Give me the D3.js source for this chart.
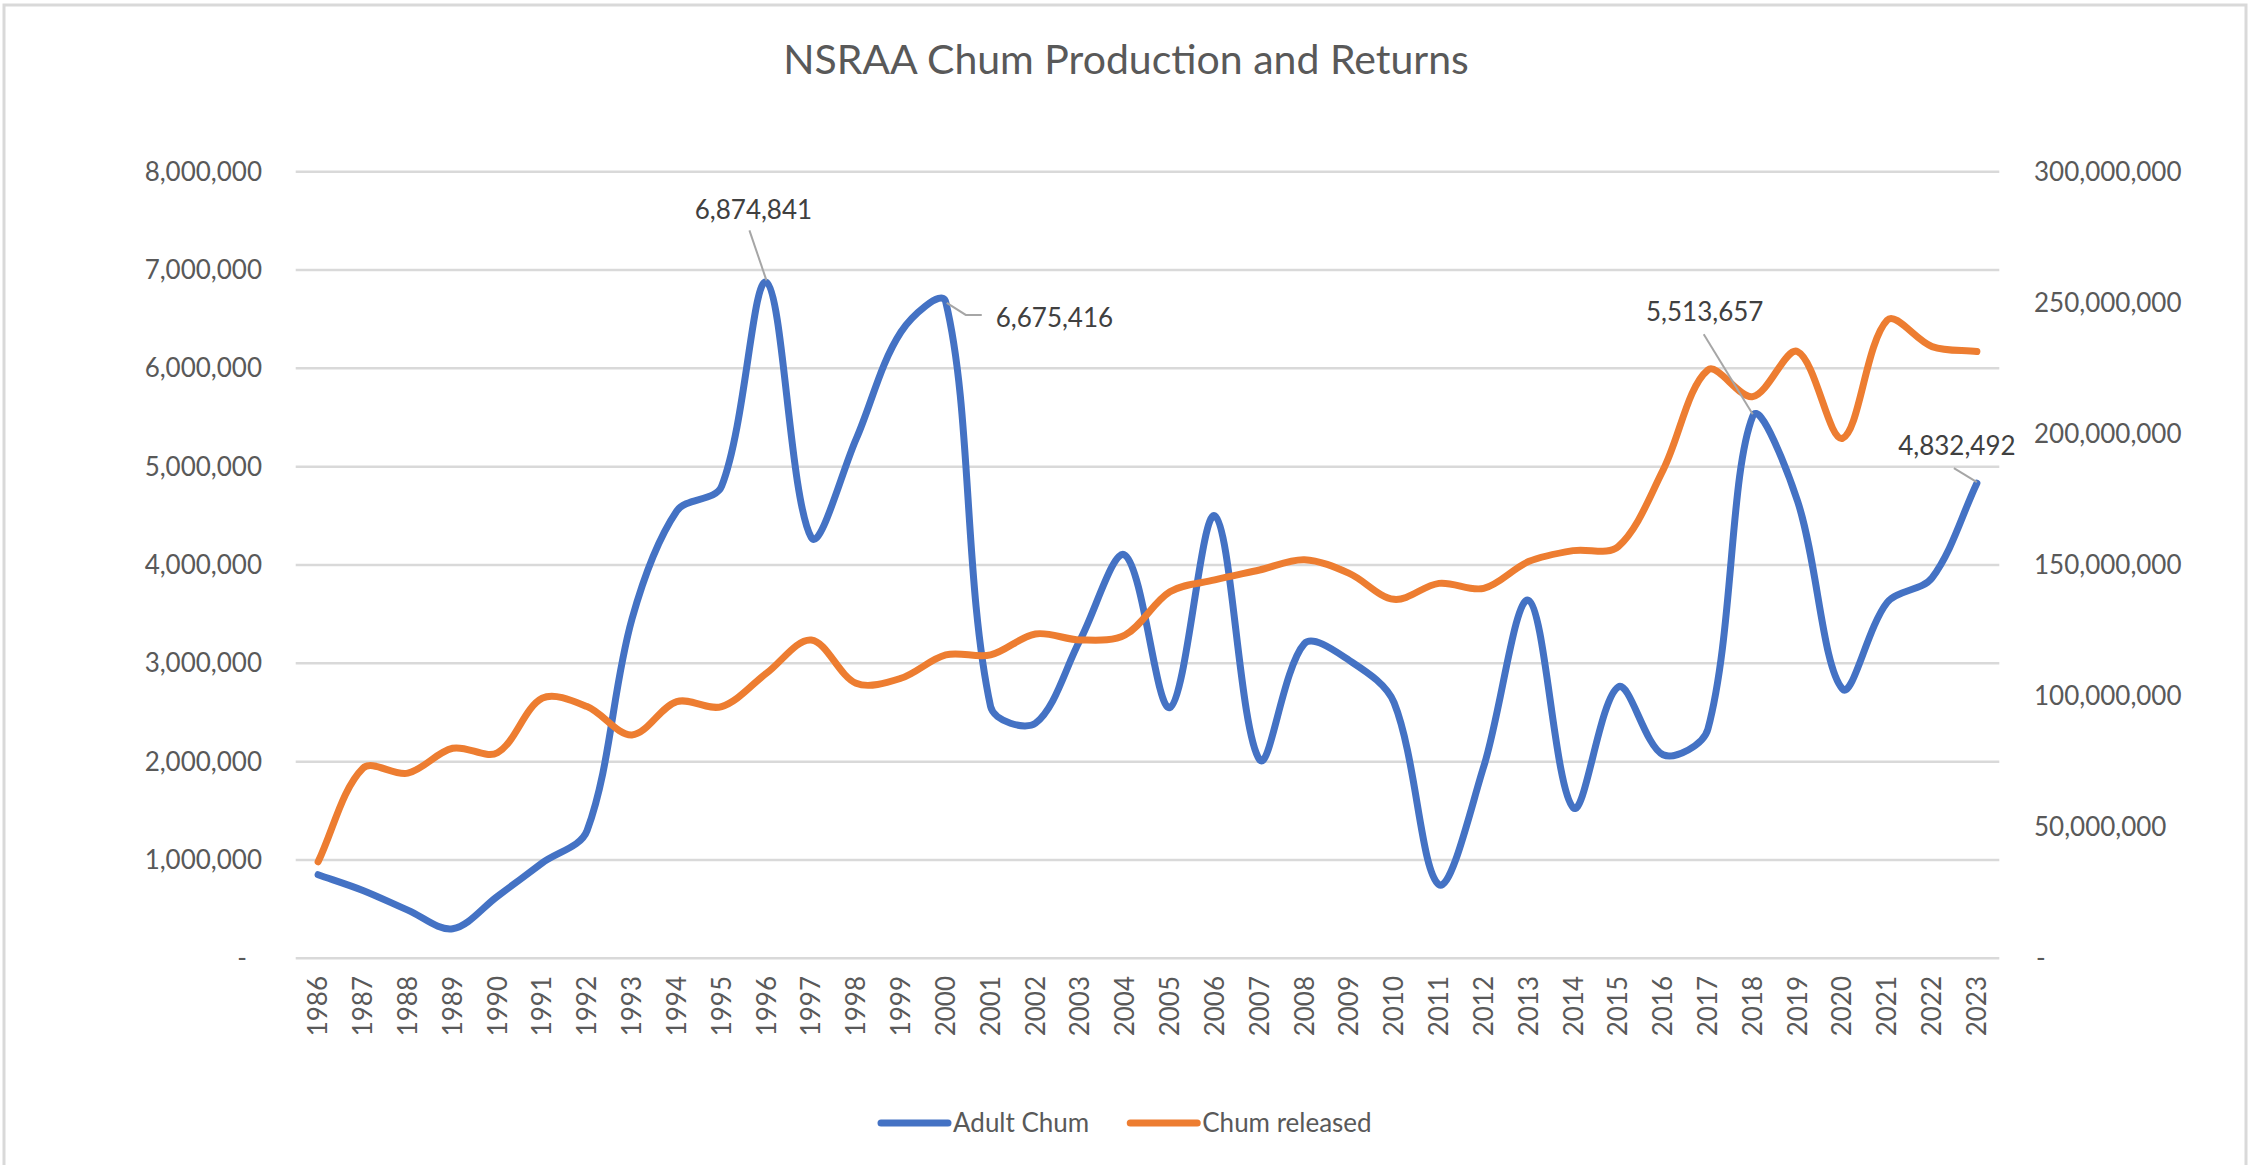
<!DOCTYPE html>
<html>
<head>
<meta charset="utf-8">
<script src="https://cdn.jsdelivr.net/npm/d3@7"></script>
<style>
  body { margin: 0; background: #fff; }
  text { font-family: Lato, sans-serif; fill: #595959; }
</style>
</head>
<body>
<div id="container"></div>
<script>
var years = [1986, 1987, 1988, 1989, 1990, 1991, 1992, 1993, 1994, 1995,
  1996, 1997, 1998, 1999, 2000, 2001, 2002, 2003, 2004, 2005,
  2006, 2007, 2008, 2009, 2010, 2011, 2012, 2013, 2014, 2015,
  2016, 2017, 2018, 2019, 2020, 2021, 2022, 2023]

// returns, left axis
var adultChum = [850000, 690000, 490000, 300000, 630000, 970000, 1300000, 3450000, 4550000, 4800000,
  6874841, 4280000, 5280000, 6370000, 6675416, 2560000, 2390000, 3240000, 4100000, 2550000,
  4500000, 2020000, 3200000, 3030000, 2600000, 750000, 1950000, 3640000, 1530000, 2760000,
  2070000, 2330000, 5513657, 4650000, 2740000, 3620000, 3870000, 4832492]

// releases, right axis
var chumReleased = [36800000, 72500000, 70600000, 80100000, 78400000, 99200000, 96000000, 85200000, 97900000, 96000000,
  108700000, 121400000, 104900000, 106800000, 115700000, 115700000, 123700000, 121400000, 123300000, 139800000,
  144300000, 148100000, 152000000, 146800000, 136900000, 143000000, 141100000, 151300000, 155500000, 157000000,
  186200000, 224400000, 214200000, 231400000, 198300000, 243400000, 233300000, 231400000]

var leftTicks = [0, 1000000, 2000000, 3000000, 4000000, 5000000, 6000000, 7000000, 8000000]
var rightTicks = [0, 50000000, 100000000, 150000000, 200000000, 250000000, 300000000]
var labelledYears = [1996, 2000, 2018, 2023]
var seriesNames = ['Adult Chum', 'Chum released']

var W = 2252, H = 1165
var plot = { left: 295.7, right: 1999.3, top: 171.7, bottom: 958.3 }
var blue = '#4472C4', orange = '#ED7D31'
var fmt = d3.format(',')

var svg = d3.select('#container').append('svg')
  .attr('width', W)
  .attr('height', H)

// chart border
svg.append('rect')
  .attr('x', 4).attr('y', 5)
  .attr('width', W - 10).attr('height', H + 20)
  .attr('fill', 'none')
  .attr('stroke', '#d9d9d9')
  .attr('stroke-width', 3)

svg.append('text')
  .attr('x', 1126).attr('y', 74)
  .attr('text-anchor', 'middle')
  .style('font-size', '41px')
  .text('NSRAA Chum Production and Returns')

var x = d3.scaleBand().domain(years).range([plot.left, plot.right])
var cx = function (yr) { return x(yr) + x.bandwidth() / 2 }
var yL = d3.scaleLinear().domain([0, 8000000]).range([plot.bottom, plot.top])
var yR = d3.scaleLinear().domain([0, 300000000]).range([plot.bottom, plot.top])

// gridlines + left labels
svg.append('g').selectAll('line')
  .data(leftTicks).enter().append('line')
  .attr('x1', plot.left).attr('x2', plot.right)
  .attr('y1', d => yL(d)).attr('y2', d => yL(d))
  .attr('stroke', '#d9d9d9')
  .attr('stroke-width', 2.5)

svg.append('g').selectAll('text')
  .data(leftTicks).enter().append('text')
  .attr('x', d => d === 0 ? 247 : 262)
  .attr('y', d => yL(d))
  .attr('dy', '0.35em')
  .attr('text-anchor', 'end')
  .style('font-size', '26px')
  .text(d => d === 0 ? '-' : fmt(d))

svg.append('g').selectAll('text')
  .data(rightTicks).enter().append('text')
  .attr('x', d => d === 0 ? 2036 : 2034)
  .attr('y', d => yR(d))
  .attr('dy', '0.35em')
  .attr('text-anchor', 'start')
  .style('font-size', '26px')
  .text(d => d === 0 ? '-' : fmt(d))

// year labels, rotated
svg.append('g').selectAll('text')
  .data(years).enter().append('text')
  .attr('transform', d => 'translate(' + cx(d) + ',976) rotate(-90)')
  .attr('dy', '0.35em')
  .attr('text-anchor', 'end')
  .style('font-size', '26px')
  .text(d => d)

// excel style smoothing: catmull-rom tangents weighted by segment length
function smoothPath(pts) {
  var p = d3.path()
  var dist = (a, b) => Math.hypot(b[0] - a[0], b[1] - a[1])
  p.moveTo(pts[0][0], pts[0][1])
  for (var i = 0; i < pts.length - 1; i++) {
    var p0 = pts[i - 1] || pts[i], p1 = pts[i], p2 = pts[i + 1], p3 = pts[i + 2] || pts[i + 1]
    var d01 = dist(p0, p1), d12 = dist(p1, p2), d23 = dist(p2, p3)
    var f1 = d12 / (3 * (d01 + d12))
    var f2 = d12 / (3 * (d12 + d23))
    p.bezierCurveTo(
      p1[0] + (p2[0] - p0[0]) * f1, p1[1] + (p2[1] - p0[1]) * f1,
      p2[0] - (p3[0] - p1[0]) * f2, p2[1] - (p3[1] - p1[1]) * f2,
      p2[0], p2[1])
  }
  return p.toString()
}

svg.append('path')
  .attr('d', smoothPath(years.map((yr, i) => [cx(yr), yL(adultChum[i])])))
  .attr('fill', 'none')
  .attr('stroke', blue)
  .attr('stroke-width', 7)
  .attr('stroke-linecap', 'round')
  .attr('stroke-linejoin', 'round')

svg.append('path')
  .attr('d', smoothPath(years.map((yr, i) => [cx(yr), yR(chumReleased[i])])))
  .attr('fill', 'none')
  .attr('stroke', orange)
  .attr('stroke-width', 7)
  .attr('stroke-linecap', 'round')
  .attr('stroke-linejoin', 'round')

// data labels with leader lines (offsets from the point)
var labelPos = {
  1996: { tx: -13, ty: -72, anchor: 'middle', lead: [[-17, -52], [0, -2]] },
  2000: { tx: 50, ty: 16, anchor: 'start', lead: [[1, 1], [20, 13], [36, 13]] },
  2018: { tx: -48, ty: -104, anchor: 'middle', lead: [[-49, -82], [0, -2]] },
  2023: { tx: -20, ty: -37, anchor: 'middle', lead: [[-23, -15], [0, -1]] }
}

labelledYears.forEach(function (yr) {
  var v = adultChum[years.indexOf(yr)]
  var px = cx(yr), py = yL(v)
  var p = labelPos[yr]
  svg.append('path')
    .attr('d', d3.line()(p.lead.map(o => [px + o[0], py + o[1]])))
    .attr('fill', 'none')
    .attr('stroke', '#a6a6a6')
    .attr('stroke-width', 2)
  svg.append('text')
    .attr('x', px + p.tx).attr('y', py + p.ty)
    .attr('dy', '0.35em')
    .attr('text-anchor', p.anchor)
    .style('font-size', '26px')
    .style('fill', '#404040')
    .text(fmt(v))
})

// legend
var legend = svg.append('g')
var lx = 881
seriesNames.forEach(function (name, i) {
  legend.append('line')
    .attr('x1', lx).attr('x2', lx + 67)
    .attr('y1', 1123).attr('y2', 1123)
    .attr('stroke', i === 0 ? blue : orange)
    .attr('stroke-width', 7)
    .attr('stroke-linecap', 'round')
  var t = legend.append('text')
    .attr('x', lx + 72).attr('y', 1132)
    .style('font-size', '26px')
    .text(name)
  lx = lx + 72 + t.node().getComputedTextLength() + 41
})
</script>
</body>
</html>
